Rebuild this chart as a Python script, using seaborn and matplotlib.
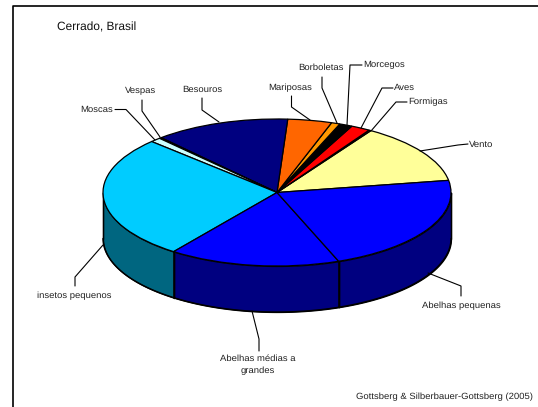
import numpy as np
import matplotlib
matplotlib.use("Agg")
import matplotlib.pyplot as plt
import seaborn as sns

labels = ["Vento", "Formigas", "Aves", "Morcegos", "Borboletas", "Mariposas",
          "Besouros", "Vespas", "Moscas", "insetos pequenos",
          "Abelhas médias a\ngrandes", "Abelhas pequenas"]
shares = [13.3, 0.2, 1.8, 1.2, 0.8, 4.1, 12.6, 0.2, 1.0, 27.1, 15.9, 21.9]
top_colors = ["#FFFF99", "#FF0000", "#FF0000", "#000000", "#FF9900", "#FF6600",
              "#000080", "#000080", "#CCFFFF", "#00CCFF", "#0000FF", "#0000FF"]
side_colors = ["#808040", "#800000", "#800000", "#000000", "#804000", "#803000",
               "#000040", "#000040", "#668080", "#006680", "#000080", "#000080"]

W, H = 538, 407
CX, CY, RX, RY, DEPTH = 277, 192.5, 174, 73.5, 46
START_ANGLE = 9.5

sns.set_theme(style="white", rc={"font.family": ["Liberation Sans", "DejaVu Sans"],
                                 "text.hinting": "no_hinting",
                                 "text.hinting_factor": 8})
fig = plt.figure(figsize=(W / 100, H / 100), dpi=100, facecolor="white")
ax = fig.add_axes([0, 0, 1, 1])


def to_data(px, py):
    return (px - CX) / RX, (CY - py) / RY


# Top face of the disc
ax.pie(shares, colors=top_colors, startangle=START_ANGLE, counterclock=True,
       radius=1.0, wedgeprops=dict(edgecolor="black", linewidth=0.9))
ax.set_aspect("auto")
ax.set_xlim(-CX / RX, (W - CX) / RX)
ax.set_ylim((CY - H) / RY, CY / RY)
ax.set_axis_off()

# Rim of the disc: only the part of each slice facing the viewer
drop = DEPTH / RY
edges = START_ANGLE + np.cumsum([0] + shares) / sum(shares) * 360
for a0, a1, col in zip(edges[:-1], edges[1:], side_colors):
    lo, hi = max(a0, 180), min(a1, 360)
    if hi > lo:
        t = np.radians(np.linspace(lo, hi, 80))
        x, y = np.cos(t), np.sin(t)
        ax.fill_between(x, y, y - drop, color=col, edgecolor="black",
                        linewidth=0.9, zorder=0.5)
        ax.plot(x, y - drop, color="black", lw=1.0, zorder=0.6)
        for xe, ye in ((x[0], y[0]), (x[-1], y[-1])):
            ax.plot([xe, xe], [ye, ye - drop], color="black", lw=1.0, zorder=0.6)

# Callouts: label anchor, text alignment and leader line, in image pixels
callouts = {
    "Vento": ((469, 144.5), "left", "center", [(468, 144), (458, 145), (420, 151)]),
    "Formigas": ((408, 102), "left", "center", [(407, 102), (396, 102), (371, 131)]),
    "Aves": ((394, 88), "left", "center", [(393, 88), (382, 88), (361, 128)]),
    "Morcegos": ((363, 65), "left", "center", [(362, 65), (350, 65), (347, 125)]),
    "Borboletas": ((321, 67.5), "center", "center", [(322, 77), (322, 88), (337, 123)]),
    "Mariposas": ((290, 88), "center", "center", [(291.5, 96), (291.5, 107), (310, 120)]),
    "Besouros": ((202, 89.5), "center", "center", [(202, 98), (202, 110), (219, 122)]),
    "Vespas": ((141, 91), "center", "center", [(142, 100), (142, 111), (160, 137)]),
    "Moscas": ((113, 110), "right", "center", [(115, 109.5), (126, 109.5), (155, 140)]),
    "insetos pequenos": ((74.5, 296), "center", "center", [(75, 286), (75, 277), (103, 245)]),
    "Abelhas médias a\ngrandes": ((258, 365), "center", "center", [(259, 351), (259, 339), (252, 311)]),
    "Abelhas pequenas": ((461, 305.5), "center", "center", [(461, 296), (461, 286), (428, 273)]),
}
for name in labels:
    (tx, ty), ha, va, path = callouts[name]
    ax.text(*to_data(tx, ty), name, ha=ha, va=va, fontsize=6.8, color="#222222",
            linespacing=1.6, zorder=5)
    pts = np.array([to_data(*p) for p in path])
    ax.plot(pts[:, 0], pts[:, 1], color="black", lw=0.8, zorder=4)

ax.text(*to_data(57, 27), "Cerrado, Brasil", ha="left", va="center",
        fontsize=8.6, color="#111111")
ax.text(*to_data(533, 397), "Gottsberg & Silberbauer-Gottsberg (2005)", ha="right",
        va="center", fontsize=6.8, color="#222222")

# Slide frame: only the top and left edges fall inside the image
frame = np.array([to_data(12.7, H), to_data(12.7, 5.5), to_data(W, 5.5)])
ax.plot(frame[:, 0], frame[:, 1], color="black", lw=1.2, zorder=6)

fig.savefig("out.png", dpi=100)
